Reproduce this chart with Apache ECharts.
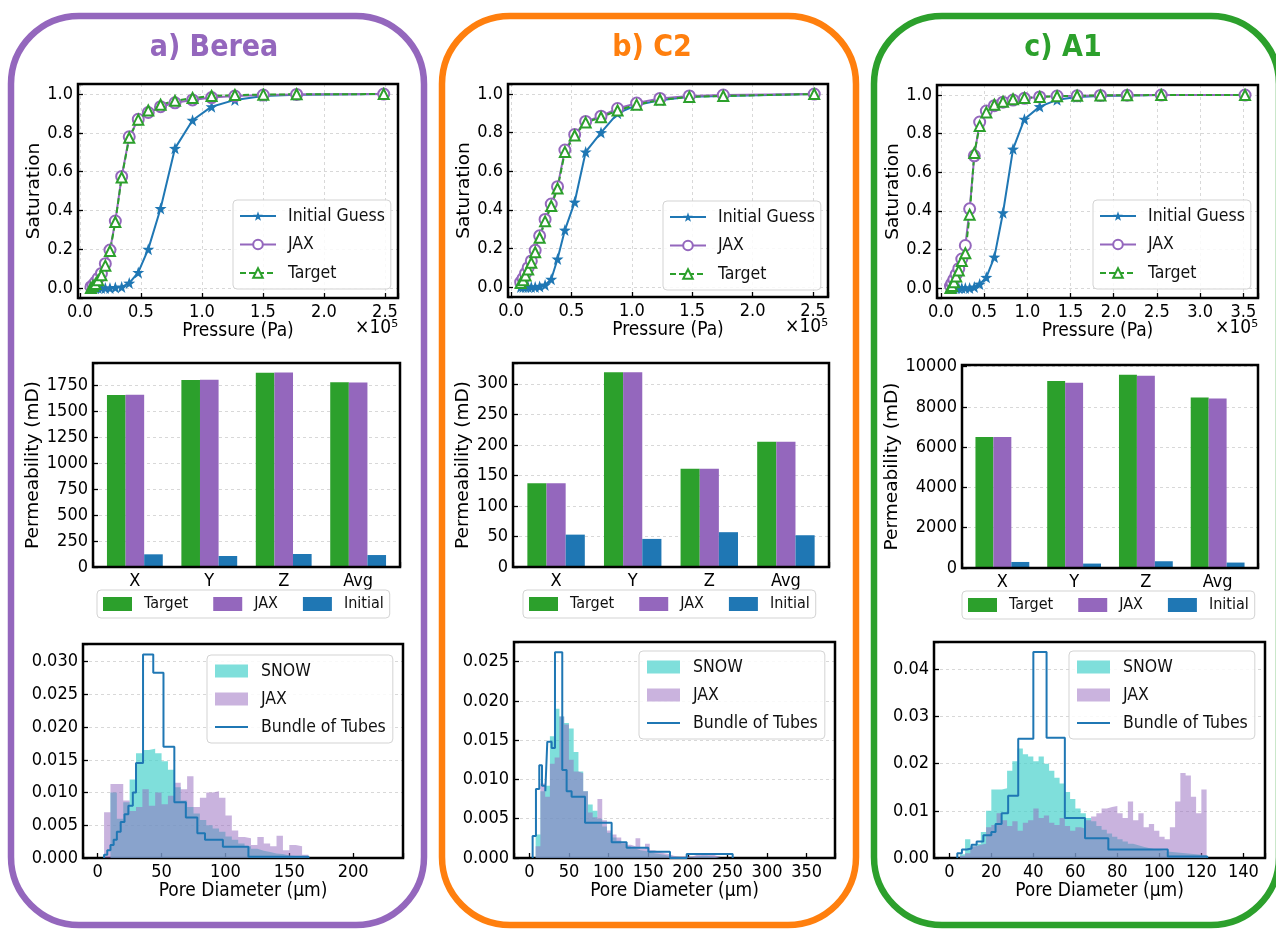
<!DOCTYPE html>
<html>
<head>
<meta charset="utf-8">
<script src="https://cdn.jsdelivr.net/npm/echarts/dist/echarts.min.js"></script>
<style>
  html, body { margin: 0; padding: 0; background: #fff; }
  #chart { width: 1276px; height: 930px; }
</style>
</head>
<body>
<div id="chart"></div>
<script>
// ---- saturation curves (pressure in 1e5 Pa) ----
const presA = [0.09, 0.107, 0.127, 0.149, 0.176, 0.208, 0.246, 0.290, 0.342, 0.404, 0.478, 0.56, 0.661, 0.779, 0.923, 1.079, 1.27, 1.503, 1.776, 2.49];
const initA = [0, 0, 0, 0, 0, 0, 0, 0.002, 0.005, 0.025, 0.08, 0.2, 0.41, 0.72, 0.865, 0.935, 0.97, 0.99, 0.996, 1.0];
const jaxA = [0.005, 0.015, 0.03, 0.05, 0.075, 0.125, 0.195, 0.345, 0.575, 0.78, 0.87, 0.905, 0.935, 0.955, 0.97, 0.982, 0.99, 0.995, 0.998, 1.0];
const targetA = [0.0, 0.01, 0.02, 0.04, 0.065, 0.115, 0.19, 0.34, 0.57, 0.775, 0.868, 0.915, 0.945, 0.965, 0.98, 0.99, 0.995, 0.997, 0.999, 1.0];

const presB = [0.08, 0.1, 0.12, 0.142, 0.168, 0.2, 0.237, 0.282, 0.333, 0.385, 0.446, 0.527, 0.618, 0.745, 0.882, 1.04, 1.233, 1.476, 1.757, 2.51];
const initB = [0, 0, 0, 0, 0, 0, 0.003, 0.01, 0.04, 0.145, 0.295, 0.44, 0.70, 0.80, 0.90, 0.943, 0.968, 0.986, 0.99, 1.0];
const jaxB = [0.025, 0.045, 0.07, 0.1, 0.135, 0.19, 0.265, 0.35, 0.43, 0.52, 0.71, 0.79, 0.858, 0.885, 0.925, 0.953, 0.977, 0.99, 0.995, 1.0];
const targetB = [0.02, 0.035, 0.06, 0.09, 0.125, 0.18, 0.255, 0.34, 0.42, 0.51, 0.70, 0.785, 0.852, 0.88, 0.915, 0.945, 0.97, 0.985, 0.99, 1.0];

const presC = [0.11, 0.128, 0.15, 0.176, 0.206, 0.241, 0.282, 0.332, 0.386, 0.448, 0.525, 0.618, 0.718, 0.834, 0.966, 1.143, 1.344, 1.576, 1.846, 2.155, 2.55, 3.52];
const initC = [0, 0, 0, 0, 0, 0, 0, 0, 0.005, 0.02, 0.055, 0.16, 0.39, 0.72, 0.875, 0.94, 0.975, 0.99, 0.995, 0.998, 1.0, 1.0];
const jaxC = [0.01, 0.025, 0.045, 0.07, 0.1, 0.15, 0.22, 0.41, 0.685, 0.86, 0.917, 0.945, 0.963, 0.974, 0.983, 0.99, 0.995, 0.996, 0.998, 0.999, 1.0, 1.0];
const targetC = [0.0, 0.01, 0.03, 0.06, 0.09, 0.14, 0.18, 0.38, 0.70, 0.84, 0.91, 0.95, 0.965, 0.978, 0.985, 0.99, 0.994, 0.996, 0.998, 0.999, 1.0, 1.0];

// ---- permeability (mD) ----
const permCats = ['X', 'Y', 'Z', 'Avg'];
const permTargetA = [1655, 1798, 1868, 1776];
const permJaxA = [1657, 1800, 1870, 1775];
const permInitA = [122, 106, 125, 115];
const permTargetB = [137, 319, 161, 205];
const permJaxB = [137, 319, 161, 205];
const permInitB = [53, 46, 57, 52];
const permTargetC = [6500, 9280, 9600, 8470];
const permJaxC = [6500, 9200, 9550, 8420];
const permInitC = [300, 220, 335, 270];

// ---- pore size histograms (density), bins start / width in µm ----
const histStartA = 5, histWidthA = 5;
const snowA = [0.0000, 0.0100, 0.0060, 0.0085, 0.0120, 0.0160, 0.0165, 0.0167, 0.0160, 0.0148, 0.0135, 0.0108, 0.0088, 0.0078, 0.0068, 0.0058, 0.0050, 0.0045, 0.0040, 0.0033, 0.0028, 0.0022, 0.0018, 0.0014, 0.0011, 0.0009, 0.0007, 0.0006, 0.0004, 0.0003, 0.0002, 0.0001];
const jaxHistA = [0.0070, 0.0113, 0.0113, 0.0088, 0.0072, 0.0078, 0.0105, 0.0080, 0.0100, 0.0082, 0.0095, 0.0115, 0.0105, 0.0125, 0.0078, 0.0092, 0.0100, 0.0102, 0.0092, 0.0065, 0.0042, 0.0032, 0.0030, 0.0020, 0.0032, 0.0022, 0.0018, 0.0034, 0.0012, 0.0020, 0.0018, 0.0005];
const tubeEdgesA = [5, 7.5, 10, 12.5, 15, 18, 21, 24, 27.5, 30, 35.5, 43.5, 51.5, 60, 69, 78, 84, 98, 118, 165];
const tubeValsA = [0.0005, 0.0012, 0.0020, 0.0028, 0.0040, 0.0055, 0.0067, 0.0080, 0.0100, 0.0145, 0.0311, 0.0283, 0.0170, 0.0085, 0.0062, 0.0038, 0.0028, 0.0017, 0.0002];

const histStartB = 8, histWidthB = 6;
const snowB = [0.0030, 0.0085, 0.0092, 0.0155, 0.0190, 0.0180, 0.0172, 0.0165, 0.0135, 0.0110, 0.0085, 0.0068, 0.0060, 0.0050, 0.0040, 0.0032, 0.0026, 0.0022, 0.0018, 0.0015, 0.0012, 0.0010, 0.0009, 0.0008, 0.0006, 0.0005, 0.0004, 0.0003, 0.0002, 0.0002, 0.0001, 0.0001, 0.0001, 0.0002, 0.0003, 0.0003, 0.0002, 0.0001, 0.0001];
const jaxHistB = [0.0015, 0.0095, 0.0078, 0.0120, 0.0128, 0.0180, 0.0170, 0.0125, 0.0110, 0.0108, 0.0085, 0.0058, 0.0052, 0.0075, 0.0048, 0.0035, 0.0030, 0.0026, 0.0020, 0.0017, 0.0015, 0.0025, 0.0012, 0.0018, 0.0010, 0.0008, 0.0006, 0.0005, 0.0003, 0.0002, 0.0002, 0.0002, 0.0002, 0.0004, 0.0005, 0.0004, 0.0005, 0.0003, 0.0002];
const tubeEdgesB = [4.2, 8.4, 12.6, 16, 20.2, 22.7, 28.2, 32.4, 41.6, 47.1, 53.4, 70.3, 103.9, 122.8, 150.2, 177.5, 198.6, 256.6];
const tubeValsB = [0.0028, 0.0088, 0.0118, 0.0092, 0.0085, 0.0148, 0.0140, 0.0262, 0.0112, 0.0085, 0.0078, 0.0045, 0.0020, 0.0013, 0.0008, 0, 0.0005];

const histStartC = 5, histWidthC = 2.5;
const snowC = [0.0008, 0.0040, 0.0025, 0.0030, 0.0055, 0.0100, 0.0145, 0.0145, 0.0148, 0.0185, 0.0205, 0.0232, 0.0220, 0.0215, 0.0205, 0.0215, 0.0200, 0.0185, 0.0170, 0.0158, 0.0140, 0.0125, 0.0105, 0.0095, 0.0085, 0.0078, 0.0068, 0.0060, 0.0052, 0.0045, 0.0040, 0.0035, 0.0030, 0.0027, 0.0024, 0.0021, 0.0019, 0.0017, 0.0015, 0.0013, 0.0012, 0.0011, 0.0010, 0.0009, 0.0008, 0.0007, 0.0006];
const jaxHistC = [0.0005, 0.0010, 0.0025, 0.0028, 0.0030, 0.0065, 0.0070, 0.0095, 0.0080, 0.0068, 0.0078, 0.0058, 0.0075, 0.0080, 0.0105, 0.0085, 0.0090, 0.0075, 0.0070, 0.0085, 0.0068, 0.0058, 0.0065, 0.0062, 0.0080, 0.0088, 0.0095, 0.0105, 0.0108, 0.0110, 0.0095, 0.0085, 0.0120, 0.0080, 0.0095, 0.0065, 0.0072, 0.0058, 0.0045, 0.0040, 0.0065, 0.0120, 0.0180, 0.0175, 0.0130, 0.0095, 0.0145];
const tubeEdgesC = [3.8, 6, 8.3, 10.6, 13, 16.2, 20, 22, 24.9, 28, 32.8, 40, 46.3, 55, 64.6, 75.7, 104, 122.8];
const tubeValsC = [0.0010, 0.0018, 0.0020, 0.0028, 0.0035, 0.0048, 0.0055, 0.0072, 0.0095, 0.0132, 0.0253, 0.0437, 0.0255, 0.0085, 0.0042, 0.0018, 0.0003];

// ---- styling ----
const FONT = '"DejaVu Sans Condensed", "DejaVu Sans", sans-serif';
const FONT_V = '"DejaVu Sans", sans-serif';
const C_BLUE = '#1f77b4', C_PURPLE = '#9467bd', C_GREEN = '#2ca02c', C_ORANGE = '#ff7f0e';
const SNOW_FILL = 'rgb(72,209,204)', SNOW_SWATCH = '#7fdfdb';
const JAX_SWATCH = '#cab3de';
const STAR = 'path://M0,-100 L23.5,-32.4 L95.1,-30.9 L38,12.4 L58.8,80.9 L0,40 L-58.8,80.9 L-38,12.4 L-95.1,-30.9 L-23.5,-32.4 Z';
const TICK_FS = 18, NAME_FS = 19;

// ---- layout of the three panels ----
const panels = [
  { color: C_PURPLE, title: 'a) Berea', cx: 214, frame: [11, 16, 413, 909],
    sat: { grid: [78, 84, 320, 214], x: [-0.016, 2.607], leg: [233, 200], gap: 34, pres: presA, init: initA, jax: jaxA, target: targetA },
    perm: { grid: [93, 363, 307, 204], yMax: 1962, step: 250, leg: [97, 590], gap: 49, target: permTargetA, jax: permJaxA, init: permInitA },
    hist: { grid: [83, 644, 320, 214], x: [-11.5, 239], xStep: 50, yMax: 0.0327, yStep: 0.005, dec: 3, leg: [207, 655],
            start: histStartA, width: histWidthA, snow: snowA, jax: jaxHistA, edges: tubeEdgesA, tubes: tubeValsA } },
  { color: C_ORANGE, title: 'b) C2', cx: 652, frame: [442, 16, 414, 909],
    sat: { grid: [508, 84, 320, 213], x: [-0.025, 2.624], leg: [663, 201], gap: 34, pres: presB, init: initB, jax: jaxB, target: targetB },
    perm: { grid: [513, 363, 316, 204], yMax: 334, step: 50, leg: [523, 590], gap: 40, target: permTargetB, jax: permJaxB, init: permInitB },
    hist: { grid: [514, 642, 321, 216], x: [-19.3, 385.7], xStep: 50, yMax: 0.0275, yStep: 0.005, dec: 3, leg: [639, 651],
            start: histStartB, width: histWidthB, snow: snowB, jax: jaxHistB, edges: tubeEdgesB, tubes: tubeValsB } },
  { color: C_GREEN, title: 'c) A1', cx: 1063, frame: [874, 16, 405, 909],
    sat: { grid: [937, 85, 321, 213], x: [-0.046, 3.67], leg: [1093, 200], gap: 32, pres: presC, init: initC, jax: jaxC, target: targetC },
    perm: { grid: [962, 365, 296, 203], yMax: 10080, step: 2000, leg: [962, 591], gap: 59, target: permTargetC, jax: permJaxC, init: permInitC },
    hist: { grid: [934, 642, 331, 216], x: [-7.3, 150.3], xStep: 20, yMax: 0.0458, yStep: 0.01, dec: 2, leg: [1069, 651],
            start: histStartC, width: histWidthC, snow: snowC, jax: jaxHistC, edges: tubeEdgesC, tubes: tubeValsC } }
];

function zip(xs, ys) { return xs.map((x, i) => [x, ys[i]]); }
function onStep(v, step) { const k = v / step; return Math.abs(k - Math.round(k)) < 1e-6; }

// filled histogram outline from equal-width bins
function stepFill(start, width, vals) {
  const pts = [[start, 0]];
  vals.forEach((v, i) => { pts.push([start + i * width, v], [start + (i + 1) * width, v]); });
  pts.push([start + vals.length * width, 0]);
  return pts;
}
// step outline from explicit bin edges
function stepEdges(edges, vals) {
  const pts = [[edges[0], 0]];
  vals.forEach((v, i) => { pts.push([edges[i], v], [edges[i + 1], v]); });
  pts.push([edges[edges.length - 1], 0]);
  return pts;
}

function mkGrid(r) {
  return { left: r[0], top: r[1], width: r[2], height: r[3], show: true, borderColor: '#000', borderWidth: 2.5,
           backgroundColor: 'transparent', z: 3, containLabel: false, outerBoundsMode: 'none' };
}

function valAxis(gi, range, step, fmt, split, extra) {
  return Object.assign({
    type: 'value', gridIndex: gi, min: range[0], max: range[1],
    minInterval: step, maxInterval: step, splitNumber: Math.max(1, Math.round((range[1] - range[0]) / step)),
    axisLine: { show: false, onZero: false },
    axisTick: { show: true, inside: true, length: 5, lineStyle: { color: '#000', width: 1.3 } },
    axisLabel: { show: true, margin: 5, color: '#000', fontFamily: FONT, fontSize: TICK_FS,
                 formatter: v => onStep(v, step) ? fmt(v) : '' },
    splitLine: { show: split, lineStyle: { color: '#cfcfcf', width: 0.8, type: [3, 3] } },
    nameTextStyle: { color: '#000', fontFamily: FONT, fontSize: NAME_FS }
  }, extra || {});
}

function legendBox(pos, extra) {
  return Object.assign({
    left: pos[0], top: pos[1], selectedMode: false,
    backgroundColor: 'rgba(255,255,255,0.85)', borderColor: '#d3d3d3', borderWidth: 1, borderRadius: 4,
    formatter: n => n.trim()
  }, extra);
}

const grid = [], xAxis = [], yAxis = [], series = [], legend = [], graphic = [];

panels.forEach(p => {
  graphic.push({ type: 'rect', z: -10, silent: true,
    shape: { x: p.frame[0], y: p.frame[1], width: p.frame[2], height: p.frame[3], r: 68 },
    style: { fill: 'none', stroke: p.color, lineWidth: 6.5 } });
  graphic.push({ type: 'text', silent: true, x: p.cx, y: 48,
    style: { text: p.title, fill: p.color, font: 'bold 30px ' + FONT, textAlign: 'center', textVerticalAlign: 'middle', align: 'center', verticalAlign: 'middle' } });

  // saturation vs pressure
  const s = p.sat;
  let g = grid.length;
  grid.push(mkGrid(s.grid));
  xAxis.push(valAxis(g, s.x, 0.5, v => v.toFixed(1), true, { name: 'Pressure (Pa)', nameLocation: 'middle', nameGap: 22 }));
  yAxis.push(valAxis(g, [-0.052, 1.052], 0.2, v => v.toFixed(1), true, {
    name: 'Saturation', nameLocation: 'middle', nameGap: s.gap, nameRotate: 90,
    nameTextStyle: { color: '#000', fontFamily: FONT_V, fontSize: 18.5 } }));
  series.push({ type: 'line', name: 'Initial Guess', xAxisIndex: g, yAxisIndex: g, data: zip(s.pres, s.init),
    symbol: STAR, symbolSize: 12, lineStyle: { color: C_BLUE, width: 2 }, itemStyle: { color: C_BLUE } });
  series.push({ type: 'line', name: 'JAX', xAxisIndex: g, yAxisIndex: g, data: zip(s.pres, s.jax),
    symbol: 'emptyCircle', symbolSize: 11, lineStyle: { color: C_PURPLE, width: 2 }, itemStyle: { color: C_PURPLE, borderWidth: 1.2 } });
  series.push({ type: 'line', name: 'Target', xAxisIndex: g, yAxisIndex: g, data: zip(s.pres, s.target),
    symbol: 'emptyTriangle', symbolSize: 10, lineStyle: { color: C_GREEN, width: 2, type: [6, 3] }, itemStyle: { color: C_GREEN, borderWidth: 1.2 } });
  legend.push(legendBox(s.leg, {
    orient: 'vertical', data: ['Initial Guess', 'JAX', 'Target'],
    itemWidth: 36, itemHeight: 12, itemGap: 10.5, padding: [7, 6, 7, 6],
    textStyle: { fontFamily: FONT, fontSize: 17.5, color: '#111', padding: [0, 0, 0, 7] } }));
  // "×10^5" offset text under the right end of the x axis
  graphic.push({ type: 'text', silent: true, x: s.grid[0] + s.grid[2], y: s.grid[1] + s.grid[3] + 30,
    style: { text: '\u00d710\u2075', fill: '#000', font: '19px ' + FONT, textAlign: 'right', textVerticalAlign: 'middle', align: 'right', verticalAlign: 'middle' } });

  // permeability bars
  const m = p.perm;
  g = grid.length;
  grid.push(mkGrid(m.grid));
  const bw = 0.25 * m.grid[2] / 4.125;
  xAxis.push(valAxis(g, [-0.5625, 3.5625], 1, v => permCats[Math.round(v)] || '', false));
  yAxis.push(valAxis(g, [0, m.yMax], m.step, v => String(v), true, {
    name: 'Permeability (mD)', nameLocation: 'middle', nameGap: m.gap, nameRotate: 90,
    nameTextStyle: { color: '#000', fontFamily: FONT_V, fontSize: 18.5 } }));
  [['Target ', m.target, C_GREEN], ['JAX ', m.jax, C_PURPLE], ['Initial', m.init, C_BLUE]].forEach(([nm, vals, col]) => {
    series.push({ type: 'bar', name: nm, xAxisIndex: g, yAxisIndex: g, data: vals.map((v, i) => [i, v]),
      barWidth: bw, barGap: '0%', itemStyle: { color: col } });
  });
  legend.push(legendBox(m.leg, {
    orient: 'horizontal', data: [{ name: 'Target ', icon: 'rect' }, { name: 'JAX ', icon: 'rect' }, { name: 'Initial', icon: 'rect' }],
    itemWidth: 29, itemHeight: 14, itemGap: 25, padding: [6, 6, 6, 6],
    textStyle: { fontFamily: FONT, fontSize: 16, color: '#111', padding: [0, 0, 0, 7] } }));

  // pore size distributions
  const h = p.hist;
  g = grid.length;
  grid.push(mkGrid(h.grid));
  xAxis.push(valAxis(g, h.x, h.xStep, v => String(Math.round(v)), false, { name: 'Pore Diameter (\u00b5m)', nameLocation: 'middle', nameGap: 24 }));
  yAxis.push(valAxis(g, [0, h.yMax], h.yStep, v => v.toFixed(h.dec), true));
  series.push({ type: 'line', name: 'SNOW', xAxisIndex: g, yAxisIndex: g, data: stepFill(h.start, h.width, h.snow),
    symbol: 'none', lineStyle: { width: 0, color: 'rgba(0,0,0,0)' }, areaStyle: { color: SNOW_FILL, opacity: 0.7 }, itemStyle: { color: SNOW_SWATCH } });
  series.push({ type: 'line', name: 'JAX  ', xAxisIndex: g, yAxisIndex: g, data: stepFill(h.start, h.width, h.jax),
    symbol: 'none', lineStyle: { width: 0, color: 'rgba(0,0,0,0)' }, areaStyle: { color: C_PURPLE, opacity: 0.5 }, itemStyle: { color: JAX_SWATCH } });
  series.push({ type: 'line', name: 'Bundle of Tubes', xAxisIndex: g, yAxisIndex: g, data: stepEdges(h.edges, h.tubes),
    symbol: 'none', lineStyle: { color: C_BLUE, width: 2 }, itemStyle: { color: C_BLUE } });
  legend.push(legendBox(h.leg, {
    orient: 'vertical',
    data: [{ name: 'SNOW', icon: 'rect', itemStyle: { color: SNOW_SWATCH } },
           { name: 'JAX  ', icon: 'rect', itemStyle: { color: JAX_SWATCH } },
           { name: 'Bundle of Tubes', itemStyle: { opacity: 0 } }],
    itemWidth: 33, itemHeight: 13, itemGap: 10, padding: [7, 7, 7, 7],
    textStyle: { fontFamily: FONT, fontSize: 17.5, color: '#111', padding: [0, 0, 0, 8] } }));
});

const chart = echarts.init(document.getElementById('chart'), null, { renderer: 'canvas' });
chart.setOption({
  animation: false,
  backgroundColor: '#fff',
  textStyle: { fontFamily: FONT },
  grid, xAxis, yAxis, series, legend, graphic
});
</script>
</body>
</html>
